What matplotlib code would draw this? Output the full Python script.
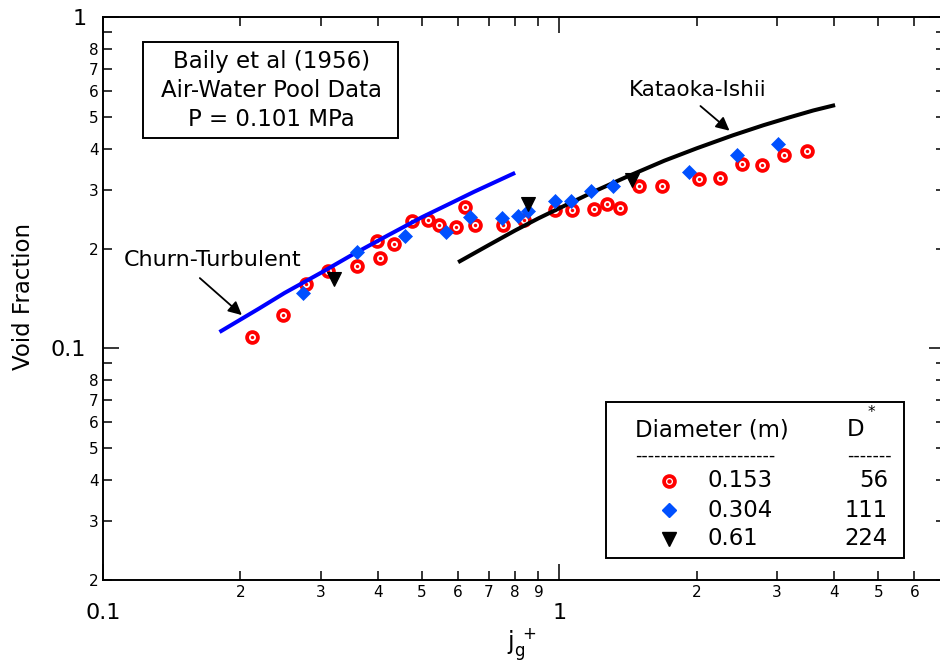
import numpy as np
import matplotlib
matplotlib.use('Agg')
import matplotlib.pyplot as plt
from matplotlib.ticker import LogLocator, FuncFormatter
from matplotlib.patches import Rectangle

# Baily et al (1956) air-water pool data, D = 0.153 m
jg_153 = [0.212, 0.248, 0.278, 0.311, 0.360, 0.398, 0.404, 0.435, 0.475, 0.516,
          0.546, 0.594, 0.621, 0.654, 0.754, 0.838, 0.976, 1.066, 1.189, 1.272,
          1.356, 1.497, 1.680, 2.025, 2.247, 2.511, 2.787, 3.104, 3.493]
alpha_153 = [0.108, 0.126, 0.156, 0.171, 0.177, 0.211, 0.188, 0.206, 0.243, 0.244,
             0.236, 0.233, 0.267, 0.236, 0.235, 0.245, 0.262, 0.262, 0.263, 0.273,
             0.265, 0.310, 0.310, 0.325, 0.328, 0.360, 0.359, 0.384, 0.394]

# D = 0.304 m
jg_304 = [0.275, 0.360, 0.460, 0.565, 0.637, 0.749, 0.810, 0.855, 0.976, 1.062,
          1.174, 1.313, 1.928, 2.448, 3.021]
alpha_304 = [0.147, 0.195, 0.219, 0.224, 0.250, 0.248, 0.251, 0.260, 0.279, 0.279,
             0.299, 0.309, 0.342, 0.384, 0.414]

# D = 0.61 m
jg_610 = [0.320, 0.855, 1.441]
alpha_610 = [0.162, 0.273, 0.322]

# correlations
churn_j = [0.18, 0.22, 0.25, 0.30, 0.35, 0.42, 0.50, 0.58, 0.65, 0.72, 0.80]
churn_a = [0.112, 0.132, 0.147, 0.169, 0.191, 0.219, 0.249, 0.275, 0.297, 0.317, 0.339]
ki_j = [0.60, 0.70, 0.80, 0.90, 1.00, 1.20, 1.40, 1.70, 2.00, 2.40, 2.80, 3.20,
        3.60, 4.02]
ki_a = [0.182, 0.205, 0.227, 0.247, 0.265, 0.299, 0.329, 0.369, 0.402, 0.440,
        0.472, 0.499, 0.523, 0.543]

legend_d = ['0.153', '0.304', '0.61']
legend_dstar = ['56', '111', '224']

RED = '#ff0000'
BLUE = '#0050ff'

fig = plt.figure(figsize=(9.4, 6.62), dpi=100)
ax = fig.add_axes([103/940, 82.3/662, 842/940, 562.4/662])

# red rings sit under the lines, diamonds and triangles on top
ax.plot(jg_153, alpha_153, 'o', ms=7.8, mfc='white', mec=RED, mew=2.7, ls='none', zorder=2)
ax.plot(jg_153, alpha_153, 'o', ms=2.2, mfc=RED, mec=RED, mew=0.3, ls='none', zorder=2)
ax.plot(churn_j, churn_a, color='#0000ff', lw=2.9, solid_capstyle='butt', zorder=3)
ax.plot(ki_j, ki_a, color='black', lw=2.9, solid_capstyle='butt', zorder=3)
ax.plot(jg_304, alpha_304, 'D', ms=7.2, color=BLUE, mew=0.5, ls='none', zorder=4)
ax.plot(jg_610, alpha_610, 'v', ms=10.5, color='black', mew=0.8, ls='none', zorder=5)

ax.set_xscale('log')
ax.set_yscale('log')
ax.set_xlim(0.1, 7)
ax.set_ylim(0.02, 1)

def minor_fmt(skip, vmax):
    def f(v, pos):
        if v >= vmax:
            return ''
        d = int(round(v / 10 ** np.floor(np.log10(v) + 1e-9)))
        return '' if d in skip else str(d)
    return FuncFormatter(f)

major_fmt = FuncFormatter(lambda v, pos: '%g' % v)
for axis in (ax.xaxis, ax.yaxis):
    axis.set_major_locator(LogLocator(base=10, numticks=10))
    axis.set_minor_locator(LogLocator(base=10, subs=np.arange(2, 10), numticks=30))
    axis.set_major_formatter(major_fmt)
ax.xaxis.set_minor_formatter(minor_fmt([], 6.9))
ax.yaxis.set_minor_formatter(minor_fmt([9], 1.0))

ax.tick_params(which='both', direction='in', top=True, right=True, width=1.1)
ax.tick_params(which='major', length=11.5, labelsize=16, pad=17)
ax.tick_params(which='minor', length=6.5, labelsize=11, pad=4)
ax.tick_params(axis='y', which='major', pad=12)
ax.tick_params(axis='y', which='minor', pad=3)
for s in ax.spines.values():
    s.set_linewidth(1.4)

fig.text(24/940, 1 - 296/662, 'Void Fraction', rotation=90, fontsize=16.5,
         ha='center', va='center')
fig.text(522/940, 1 - 645/662, r'$\mathrm{j}_{\mathrm{g}}^{\ +}$', fontsize=17,
         ha='center', va='center')

# source box
ax.add_patch(Rectangle((0.0479, 0.7849), 0.3028, 0.1717, transform=ax.transAxes,
                       fill=False, lw=1.4, ec='black'))
for txt, yy in [('Baily et al (1956)', 0.921), ('Air-Water Pool Data', 0.870),
                ('P = 0.101 MPa', 0.818)]:
    ax.text(0.2, yy, txt, transform=ax.transAxes, fontsize=16.5,
            ha='center', va='center')

# curve labels
ax.text(0.174, 0.185, 'Churn-Turbulent', fontsize=16, ha='center', va='center')
ax.annotate('', xy=(0.2015, 0.126), xytext=(0.163, 0.163),
            arrowprops=dict(arrowstyle='-|>', mutation_scale=20, lw=1.3,
                            color='black', shrinkA=0, shrinkB=0))
ax.text(2.007, 0.603, 'Kataoka-Ishii', fontsize=15.5, ha='center', va='center')
ax.annotate('', xy=(2.36, 0.4544), xytext=(2.038, 0.5395),
            arrowprops=dict(arrowstyle='-|>', mutation_scale=20, lw=1.3,
                            color='black', shrinkA=0, shrinkB=0))

# legend table
ax.add_patch(Rectangle((0.597, 0.038), 0.3547, 0.2785, transform=ax.transAxes,
                       fill=False, lw=1.4, ec='black'))
ax.text(0.6318, 0.2662, 'Diameter (m)', transform=ax.transAxes, fontsize=16.4,
        ha='left', va='center')
ax.text(0.8836, 0.2662, 'D', transform=ax.transAxes, fontsize=16.4,
        ha='left', va='center')
ax.text(0.9075, 0.298, '*', transform=ax.transAxes, fontsize=11,
        ha='left', va='center')
ax.text(0.6318, 0.22, '-' * 22, transform=ax.transAxes, fontsize=12.8,
        ha='left', va='center')
ax.text(0.8836, 0.22, '-' * 7, transform=ax.transAxes, fontsize=12.5,
        ha='left', va='center')
rows_y = [0.1755, 0.1239, 0.0724]
lx = 0.6722
ax.plot(lx, rows_y[0], 'o', ms=7.8, mfc='white', mec=RED, mew=2.7,
        transform=ax.transAxes, clip_on=False)
ax.plot(lx, rows_y[0], 'o', ms=2.2, color=RED, transform=ax.transAxes, clip_on=False)
ax.plot(lx, rows_y[1], 'D', ms=7.2, color=BLUE, transform=ax.transAxes, clip_on=False)
ax.plot(lx, rows_y[2], 'v', ms=10.5, color='black', transform=ax.transAxes, clip_on=False)
for d, ds, yy in zip(legend_d, legend_dstar, rows_y):
    ax.text(0.7185, yy, d, transform=ax.transAxes, fontsize=16.4, ha='left', va='center')
    ax.text(0.9323, yy, ds, transform=ax.transAxes, fontsize=16.4, ha='right', va='center')

fig.savefig('out.png', dpi=100)
